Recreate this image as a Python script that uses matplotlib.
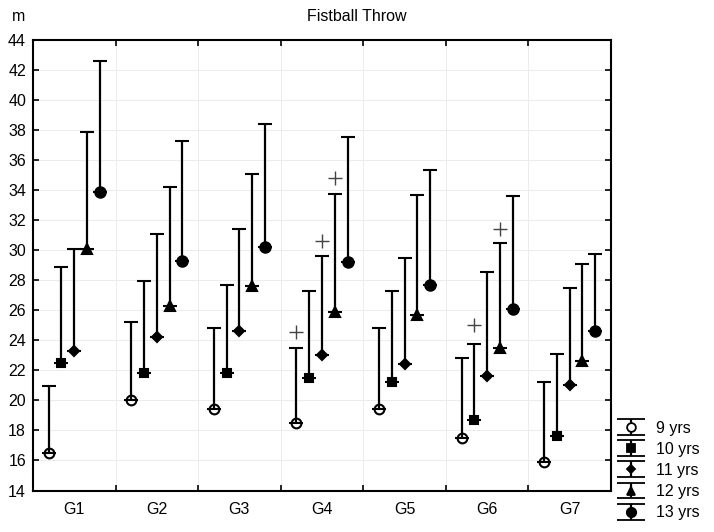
import numpy as np
import matplotlib
matplotlib.use("Agg")
from matplotlib import pyplot as plt
from matplotlib.ticker import FixedLocator
from matplotlib.legend_handler import HandlerErrorbar

plt.rcParams['font.family'] = ['Liberation Sans', 'DejaVu Sans']

grupos = ['G1', 'G2', 'G3', 'G4', 'G5', 'G6', 'G7']
edades = ['9 yrs', '10 yrs', '11 yrs', '12 yrs', '13 yrs']

# media por edad (una lista por grupo de edad, valores por G1..G7)
media_9 = [16.5, 20.0, 19.4, 18.5, 19.4, 17.5, 15.9]
media_10 = [22.5, 21.8, 21.8, 21.5, 21.2, 18.7, 17.6]
media_11 = [23.3, 24.2, 24.6, 23.0, 22.4, 21.6, 21.0]
media_12 = [30.1, 26.3, 27.6, 25.9, 25.7, 23.5, 22.6]
media_13 = [33.9, 29.3, 30.2, 29.2, 27.7, 26.1, 24.6]

# extremo superior de la barra (media + desviacion)
sup_9 = [20.95, 25.2, 24.8, 23.5, 24.8, 22.8, 21.25]
sup_10 = [28.9, 27.95, 27.7, 27.3, 27.3, 23.75, 23.1]
sup_11 = [30.1, 31.1, 31.4, 29.6, 29.5, 28.55, 27.45]
sup_12 = [37.85, 34.2, 35.05, 33.75, 33.7, 30.45, 29.05]
sup_13 = [42.6, 37.3, 38.4, 37.55, 35.35, 33.6, 29.75]

# marcas "+" (grupo, edad, valor)
cruz_grupo = [3, 3, 3, 5, 5]
cruz_edad = [0, 2, 3, 1, 3]
cruz_valor = [24.55, 30.6, 34.8, 25.05, 31.4]

medias = [media_9, media_10, media_11, media_12, media_13]
superiores = [sup_9, sup_10, sup_11, sup_12, sup_13]
marcadores = [('o', 'white', 7), ('s', 'black', 6), ('D', 'black', 5), ('^', 'black', 7), ('o', 'black', 7.5)]

fig = plt.figure(figsize=(7.14, 5.32), dpi=100)
ax = fig.add_axes([0.0462, 0.078, 0.8095, 0.847])

x = np.arange(len(grupos))
desp = 0.155
handles = []
for k in range(5):
    m = np.array(medias[k])
    s = np.array(superiores[k]) - m
    mk, fc, ms = marcadores[k]
    h = ax.errorbar(x + (k - 2) * desp, m, yerr=[np.zeros_like(m), s],
                    fmt=mk, color='black', mfc=fc, mec='black', mew=1.5, ms=ms,
                    ecolor='black', elinewidth=1.6, capsize=4.8, capthick=1.6)
    # la raya de la media va por encima del marcador
    h[0].set_zorder(2)
    for c in h[1]:
        c.set_zorder(3)
    # simbolo para la leyenda, con raya mas ancha
    p = ax.errorbar([np.nan], [np.nan], yerr=[[1], [1]], fmt=mk, color='black',
                    mfc=fc, mec='black', mew=1.3, ms=ms * 0.9, ecolor='black',
                    elinewidth=1.6, capsize=10, capthick=1.6, label=edades[k])
    p[0].set_zorder(2)
    handles.append(p)

cx = [cruz_grupo[i] + (cruz_edad[i] - 2) * desp for i in range(len(cruz_grupo))]
ax.plot(cx, cruz_valor, '+', color='#444444', ms=10, mew=1.0)

ax.set_xlim(-0.5, 6.5)
ax.set_ylim(14, 44)
ax.set_yticks(np.arange(14, 45, 2))
ax.set_xticks(x)
ax.set_xticklabels(grupos)
ax.xaxis.set_minor_locator(FixedLocator(np.arange(0.5, 6.5, 1)))
ax.tick_params(axis='x', which='major', length=0, pad=8, labelsize=11.5)
ax.tick_params(axis='x', which='minor', direction='in', length=4, width=1.2, top=True, bottom=True)
ax.tick_params(axis='y', direction='in', length=4, width=1.2, right=True, labelsize=11.5, pad=5)
ax.grid(True, which='major', axis='y', color='#ececec', lw=0.7)
ax.grid(True, which='minor', axis='x', color='#ececec', lw=0.7)
ax.set_axisbelow(True)
for sp in ax.spines.values():
    sp.set_linewidth(1.5)

fig.text(0.017, 0.983, 'm', fontsize=11.5, ha='left', va='top')
fig.suptitle('Fistball Throw', x=0.5, y=0.983, fontsize=11.5, va='top')

ax.legend(handles=handles, loc='lower left', bbox_to_anchor=(0.993, -0.08),
          frameon=False, fontsize=11.5, handlelength=2.2, handletextpad=0.45,
          labelspacing=0.38, borderaxespad=0,
          handler_map={type(handles[0]): HandlerErrorbar(xerr_size=0.5, yerr_size=0.5)})

fig.savefig('out.png', dpi=100)
